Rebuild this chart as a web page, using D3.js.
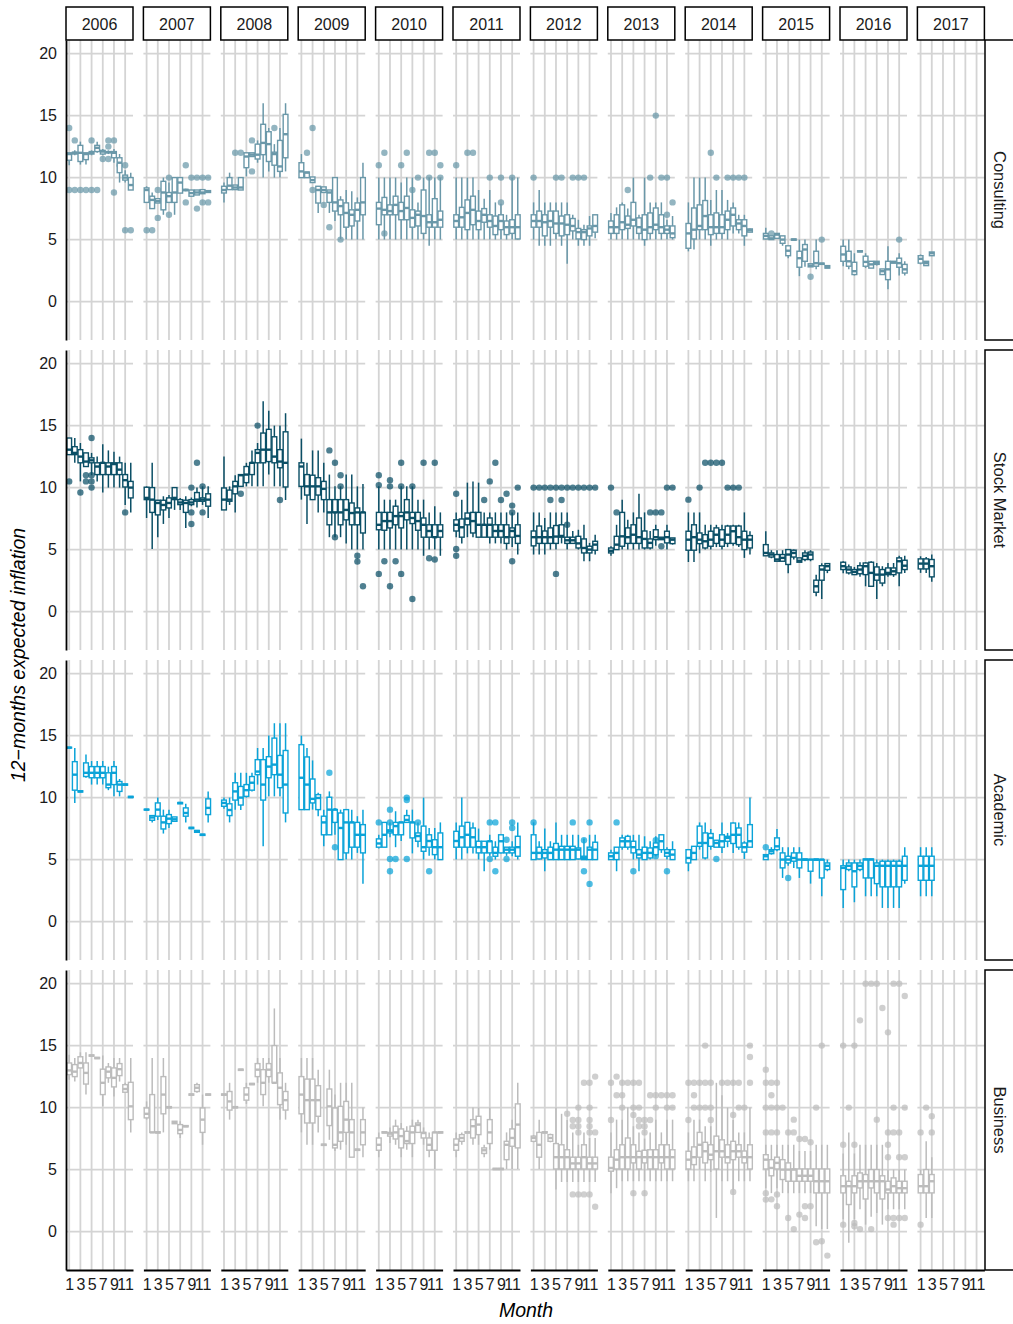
<!DOCTYPE html>
<meta charset="utf-8">
<style>
body { margin: 0; background: #fff; }
svg { font-family: "Liberation Sans", Arial, sans-serif; }
.axis text { font-size: 16px; fill: #1a1a1a; }
.axis path { stroke: #000; stroke-width: 1.8; }
</style>
<svg width="1013" height="1324"></svg>
<script src="https://d3js.org/d3.v7.min.js"></script>
<script>

var years = [2006, 2007, 2008, 2009, 2010, 2011, 2012, 2013, 2014, 2015, 2016, 2017];
var groups = ["Consulting", "Stock Market", "Academic", "Business"];
var groupColors = ["#6a98a9", "#0b4f66", "#0aa3d8", "#bcbcbc"];
var yTicks = [0, 5, 10, 15, 20];
var monthTicks = [1, 3, 5, 7, 9, 11];

// [year, month, lower whisker, q1, median, q3, upper whisker]
var consultingBoxes = [
[2006,1,11,11.4,11.9,12,12],[2006,2,11.8,11.9,12,12.05,12.2],[2006,3,11.05,11.3,12,12.6,12.9],[2006,4,11.05,11.45,11.9,12,12],
[2006,5,11.8,11.9,12,12.1,12.2],[2006,6,12,12.1,12.4,12.6,12.9],[2006,7,11.8,11.9,12.1,12.2,12.3],[2006,8,11.9,12,12.05,12.1,12.2],
[2006,9,11.2,11.6,12,12.1,12.3],[2006,10,9.6,10.4,11.2,11.6,11.9],[2006,11,9.6,9.8,10,10.2,10.6],[2006,12,9,9,9.4,10,10.4],
[2007,1,8,8,9,9.17,9.3],[2007,2,7.5,7.5,8.2,8.5,8.8],[2007,3,7.95,7.95,8.1,8.3,8.3],[2007,4,7,7.4,8.8,9.7,10],
[2007,5,8,8,8.5,8.8,9.6],[2007,6,7,8,8.8,10,10],[2007,7,8.75,8.75,9.6,10,10],[2007,8,8.9,8.95,9,9.05,9.1],
[2007,9,8.5,8.5,8.75,9,9],[2007,10,8.6,8.6,8.8,9,9],[2007,11,8.7,8.7,8.8,9.03,9.03],[2007,12,8.8,8.8,8.9,8.95,9],
[2008,1,8,8.76,9,9.3,9.6],[2008,2,9,9.03,9.35,10,10.4],[2008,3,9.03,9.03,9.2,9.4,9.4],[2008,4,9,9,9.2,10,10],
[2008,5,10.1,10.8,11.7,12,12],[2008,6,11.7,11.7,11.85,12,12],[2008,7,11.2,11.5,11.85,12.7,13],[2008,8,10,11.85,12.8,14.3,16],
[2008,9,10.5,11.3,12.7,13.7,14],[2008,10,10,11,11.9,12.05,12.7],[2008,11,10,10.5,10.9,13,14],[2008,12,10.5,11.6,13.5,15.1,16],
[2009,1,10,10,10.5,11.2,11.9],[2009,2,10,10,10.4,10.45,10.45],[2009,3,9.6,9.6,9.8,10.05,10.05],[2009,4,7.15,7.95,9,9.3,9.3],
[2009,5,8.8,8.8,9,9.25,9.25],[2009,6,7.15,8,8.8,9,9],[2009,7,6.5,7.3,8,10,10],[2009,8,5.05,7,7.7,8.2,8.5],
[2009,9,5,6,7.15,7.96,9],[2009,10,5,6.1,7,7.4,8.9],[2009,11,5,6.5,7.4,7.96,8.4],[2009,12,5,7,8,10,11.2],
[2010,1,5,6.2,7.5,8,10],[2010,2,5,7,7.4,8.4,10],[2010,3,5,7,7.3,7.8,10],[2010,4,5,7,7.8,8.5,10],
[2010,5,5,6.6,7.3,8,9.6],[2010,6,5,6.6,7.55,8.5,10],[2010,7,5,6,6.75,7.4,10],[2010,8,5,6.1,7,7.3,8],
[2010,9,5,5.5,6.9,9,10],[2010,10,4.5,6,6.4,7,10],[2010,11,5,6,6.4,8.3,10],[2010,12,5,6,6.6,7.3,10],
[2011,1,5,6,6.5,7,10],[2011,2,5,6,6.8,7.6,10],[2011,3,5,5.8,7.15,8.2,10],[2011,4,5,6.2,7.4,8.5,10],
[2011,5,5,5.8,6.5,7.3,9],[2011,6,5,6.4,7,7.5,8.3],[2011,7,5,6,6.5,7,9],[2011,8,5,5.4,6.1,6.9,8],
[2011,9,5,5.8,6.5,7,7.9],[2011,10,5,5.4,6,6.5,7],[2011,11,5,5.5,6,6.6,10],[2011,12,5,5.05,6,7,10],
[2012,1,5,6,6.5,7,8],[2012,2,4.5,6,6.5,7.3,9],[2012,3,4.5,5.3,6.4,7,8],[2012,4,4.5,6,6.5,7.3,8],
[2012,5,5,5.5,6.3,7.3,8],[2012,6,4.5,5.3,6.3,6.9,8],[2012,7,3.05,5.4,6.2,7,8],[2012,8,5,5.7,6.1,6.7,7],
[2012,9,4.5,5.05,5.6,5.9,6.6],[2012,10,4.5,5,5.6,5.8,6.2],[2012,11,4.5,5.3,5.9,6.1,6.9],[2012,12,5.1,5.6,6.1,7,7],
[2013,1,5,5.5,6,6.5,7.15],[2013,2,5,5.5,6,7,7.6],[2013,3,5,5.8,6.4,7.8,8],[2013,4,5,5.9,6.2,6.9,7.5],
[2013,5,5,6.1,6.6,8,10],[2013,6,5,5.5,6,6.75,7],[2013,7,4.5,5,5.8,7,10],[2013,8,5,5.5,6,7.15,8],
[2013,9,5,5.8,6.2,7.55,8],[2013,10,5,5.5,6,7,8],[2013,11,5,5.5,5.8,6.1,6.6],[2013,12,5,5.15,5.5,6.1,6.9],
[2014,1,4.05,4.3,5.5,6.3,8],[2014,2,4.2,5.05,5.8,7.55,10],[2014,3,5,5.8,6.1,7.8,10],[2014,4,5,5.8,6.9,8.15,10],
[2014,5,4.5,5.4,6,7,8.2],[2014,6,5,5.5,6,7.15,9],[2014,7,5,5.5,6,7,9],[2014,8,5,5.8,6.6,7.3,8.2],
[2014,9,5.5,6.1,7,7.55,8],[2014,10,5.5,5.8,6.3,6.6,7],[2014,11,4.5,5.3,6.1,6.6,7],[2014,12,5.6,5.6,5.75,5.86,5.9],
[2015,1,5,5.05,5.3,5.5,5.95],[2015,2,5,5,5.1,5.3,5.3],[2015,3,5.1,5.1,5.4,5.5,5.5],[2015,4,4.5,4.7,5,5.3,5.3],
[2015,5,3.5,3.7,4.1,4.5,4.5],[2015,6,4.95,4.95,5,5.05,5.05],[2015,7,2.05,2.77,3.5,4.06,5],[2015,8,2.8,3.25,4.2,4.6,5],
[2015,9,2.8,2.8,2.9,3.05,3.05],[2015,10,2.6,2.85,3.1,4.06,5],[2015,11,3,3,3.05,3.1,3.1],[2015,12,2.7,2.7,2.77,2.9,2.9],
[2016,1,2.85,3.25,3.8,4.46,5],[2016,2,2.6,2.85,3.25,4.06,5],[2016,3,2.1,2.18,2.45,3.17,3.9],[2016,4,4,4,4.06,4.1,4.1],
[2016,5,2.7,2.85,3.2,3.66,3.9],[2016,6,2.7,2.7,3,3.25,3.25],[2016,7,2.9,3,3.1,3.25,3.25],[2016,8,2.18,2.18,2.45,2.63,2.63],
[2016,9,1,1.77,2.6,3.25,4.46],[2016,10,3.1,3.1,3.17,3.25,3.25],[2016,11,2.1,2.77,3.1,3.5,3.9],[2016,12,2.1,2.3,2.6,3,3.25],
[2017,1,3,3.1,3.45,3.7,3.8],[2017,2,2.9,2.9,3.1,3.25,3.25],[2017,3,3.7,3.7,3.9,4,4]
];

// [year, month, outlier values...]
var consultingOutliers = [
[2006,1,14,9],[2006,2,13,9],[2006,3,9],[2006,4,9],[2006,5,13,9],[2006,6,9],[2006,7,11.5],[2006,8,13,12.5,11.5],
[2006,9,13,8.8],[2006,10,11],[2006,11,11,5.75],[2006,12,5.75],
[2007,1,5.75],[2007,2,5.75],[2007,3,9,6.75],[2007,5,10,7],[2007,8,11,8],[2007,9,10],[2007,10,10,7.5],[2007,11,10,8],[2007,12,10,8],
[2008,3,12],[2008,4,12],[2008,6,13,10.5],[2008,10,14],
[2009,2,12],[2009,3,14,9],[2009,5,7.8],[2009,6,6],[2009,8,5],
[2010,1,11],[2010,2,12,5.5],[2010,5,11],[2010,6,12],[2010,7,9],[2010,8,10],[2010,10,12,10],[2010,11,12],[2010,12,11,10],
[2011,1,11],[2011,3,12],[2011,4,12],[2011,7,10],[2011,9,10,8],[2011,11,10],
[2012,1,10],[2012,5,10],[2012,6,10],[2012,8,10],[2012,9,10],[2012,10,10],
[2013,4,9],[2013,8,10],[2013,9,15],[2013,10,10],[2013,11,10,7],[2013,12,8],
[2014,5,12],[2014,6,10],[2014,8,10],[2014,9,10],[2014,10,10],[2014,11,10],
[2015,2,5.5],[2015,9,2],[2015,11,5],
[2016,11,5]
];

var stockBoxes = [
[2006,1,12.66,12.66,13.06,14,14],[2006,2,12,12.66,12.8,13.3,14],[2006,3,10.5,12,12.5,13.06,13.6],[2006,4,11.7,11.7,12.1,12.8,12.8],
[2006,5,11,12,12.2,12.4,12.8],[2006,6,10.5,11.05,11.7,12,12.5],[2006,7,9.6,11.05,12,12,13.5],[2006,8,10,11.05,11.7,12,13],
[2006,9,10,11.05,11.9,12,12.9],[2006,10,10,11.05,11.45,12,12.5],[2006,11,8.6,10.05,10.6,11.05,12],[2006,12,8,9.17,10,10.5,12],
[2007,1,7.55,9.03,9.17,10.03,10.1],[2007,2,5.05,8,9.03,10,12],[2007,3,6,7.8,8.76,8.98,9],[2007,4,7.07,8.2,8.6,8.98,9.3],
[2007,5,7.55,8.36,8.76,9.17,9.4],[2007,6,8.2,9.03,9.17,10,10],[2007,7,8.2,8.63,8.8,9.03,9.17],[2007,8,6.75,8,8.76,8.98,9.3],
[2007,9,8.5,8.63,8.8,9.03,9.2],[2007,10,8.4,8.9,9.03,9.6,10],[2007,11,8.6,8.9,9.03,9.17,10.1],[2007,12,7.55,8.5,9.03,9.5,10.1],
[2008,1,8.2,8.2,9.03,9.97,12.5],[2008,2,8.6,8.9,9.03,9.8,10.1],[2008,3,8,9.5,10.1,10.5,11],[2008,4,10.1,10.1,11,11.05,11.05],
[2008,5,10.1,10.4,11.05,11.7,12],[2008,6,10.1,11.05,12,12,13],[2008,7,10.1,12,12.8,13.06,13.6],[2008,8,10.1,12,13.06,14.4,16.96],
[2008,9,11.05,12.1,13.06,14.7,16.2],[2008,10,10.1,12,12.5,14.1,15],[2008,11,10.1,11.6,12.1,13.06,15],[2008,12,9,10.05,12,14.5,16],
[2009,1,9.03,10.1,11.7,12,13.95],[2009,2,7.07,9.4,10.1,11.05,12],[2009,3,9.03,9.03,10.1,11,13],[2009,4,8,9.4,10.1,10.8,13],
[2009,5,8,9.03,9.9,10.5,12],[2009,6,6,7,8,9.03,11.05],[2009,7,6,8,8,9.03,10.1],[2009,8,6,7,8,9.03,10.1],
[2009,9,5.5,7.4,8.2,9.03,11.05],[2009,10,5,7,7.95,8.76,11.05],[2009,11,5,7,8,8.36,10.1],[2009,12,5,6.34,8,8,10.3],
[2010,1,5,6.6,7,8,10.1],[2010,2,5,6.56,7.3,8,9.03],[2010,3,5,6.75,7.3,8,9.03],[2010,4,5,7,7.7,8.5,9.03],
[2010,5,5,6.75,7.7,8,10.1],[2010,6,5,7.4,8,9.03,10.1],[2010,7,5,7.1,7.55,8,10.1],[2010,8,5,6.56,7.3,8,9.03],
[2010,9,4.5,6,7,7.55,9.03],[2010,10,5,6,6.5,7,8],[2010,11,5,6,6,7,8.5],[2010,12,4.5,6,6.5,7,8],
[2011,1,6,6.5,7,7.4,8],[2011,2,5.5,6,6.8,7.47,9.03],[2011,3,6,7,7.5,7.95,10.4],[2011,4,6,6.34,7.3,8,10.5],
[2011,5,6,6,7,8,10.4],[2011,6,6,6,7,7,8],[2011,7,5.5,6,7,7.55,8],[2011,8,5.5,6,6.5,7,8],
[2011,9,5.5,6,6.5,7,8],[2011,10,5,5.5,6,7,8],[2011,11,5.2,6,6.5,6.75,8],[2011,12,4.6,5.5,6.1,7,8],
[2012,1,4.6,5.3,6,6.5,8],[2012,2,4.6,5.5,6,6.9,8],[2012,3,4.6,5.5,6,6.5,7.55],[2012,4,5,5.5,6,6.75,8],
[2012,5,5,5.5,6.05,6.94,8],[2012,6,5.5,6,6.1,7,8],[2012,7,5,5.5,5.75,6,8],[2012,8,5.5,5.5,5.75,6,6.5],
[2012,9,5,5.13,5.5,6.07,6.6],[2012,10,4.06,4.73,5.13,5.86,7],[2012,11,4.06,4.73,5,5.27,5.54],[2012,12,4.6,4.95,5.4,5.67,6.2],
[2013,1,4.5,4.73,4.9,5.13,5.27],[2013,2,5,5,5.4,6.07,7],[2013,3,5,5.27,6.07,8,9.03],[2013,4,5,5.5,6,6.75,7.4],
[2013,5,5,5.5,6.2,7,8],[2013,6,5,5.5,6,7.55,9.5],[2013,7,5,5.13,5.86,6.5,8],[2013,8,5,5.13,5.54,5.86,6.5],
[2013,9,5.3,5.8,6,6.6,7],[2013,10,5.8,5.8,5.9,6,6],[2013,11,5,5.54,6,6.48,7],[2013,12,5.4,5.48,5.8,5.94,5.94],
[2014,1,4,4.95,5.8,6.48,8],[2014,2,4,4.95,6,7,8],[2014,3,4.7,5.48,5.8,6.34,8],[2014,4,5,5.13,5.67,6.2,7],
[2014,5,5,5.27,5.8,6.48,7],[2014,6,5.2,5.5,6.2,6.75,7],[2014,7,5,5.27,5.8,6.6,7],[2014,8,5.2,5.5,6.2,6.9,7],
[2014,9,5.3,5.5,6.48,6.9,7],[2014,10,5.2,5.4,6,6.9,7],[2014,11,4.33,5,5.8,6.48,8],[2014,12,4.6,5.13,5.8,6.13,6.48],
[2015,1,4.5,4.5,4.73,5.4,6.48],[2015,2,4.3,4.4,4.6,4.73,4.95],[2015,3,4.06,4.06,4.2,4.6,4.95],[2015,4,4.06,4.06,4.33,4.6,4.95],
[2015,5,3.1,3.8,4.6,5,5],[2015,6,4.2,4.4,4.73,4.95,5],[2015,7,3.98,3.98,4.1,4.33,4.33],[2015,8,4.06,4.2,4.5,4.73,4.95],
[2015,9,4.06,4.2,4.6,4.8,4.95],[2015,10,1.24,1.56,2.04,2.53,2.98],[2015,11,1.02,2.53,3.39,3.7,3.9],[2015,12,3.1,3.33,3.66,3.87,3.9],
[2016,1,3.1,3.39,3.66,3.98,4.06],[2016,2,3,3.12,3.39,3.6,3.8],[2016,3,2.98,2.98,3.2,3.39,3.6],[2016,4,2.8,3.05,3.39,3.7,3.98],
[2016,5,2.04,2.98,3.66,3.92,3.98],[2016,6,2.04,2.04,3.12,3.98,4.06],[2016,7,1.02,2.53,2.98,3.6,3.92],[2016,8,2.04,2.3,2.98,3.39,3.66],
[2016,9,2.8,2.98,3.12,3.52,3.92],[2016,10,2.8,2.98,3.25,3.52,3.92],[2016,11,2.04,3.12,4.06,4.33,4.5],[2016,12,3.12,3.39,3.7,4.14,4.5],
[2017,1,3.12,3.44,3.87,4.25,4.46],[2017,2,3.12,3.44,3.87,4.25,4.4],[2017,3,2.4,2.8,3.66,4.2,4.6]
];

var stockOutliers = [
[2006,1,10.5],[2006,3,9.6],[2006,4,12.5,11,10.5],[2006,5,14,11,10.5,10],[2006,11,8],
[2007,9,10,8,7.07],[2007,10,12],[2007,11,10.1,8],
[2008,4,9.5],[2008,7,15],[2008,11,9],
[2009,6,13],[2009,7,12,6],[2009,8,11,10.1],[2009,11,4.5,4.03],[2009,12,2.04],
[2010,1,11,10.2,3.04],[2010,2,4.06],[2010,3,10.6,10.1,2.04],[2010,4,4.06],[2010,5,12,10.1,3.04],[2010,7,10.1,1.02],[2010,9,12],[2010,10,4.3],[2010,11,12,4.2],
[2011,1,9.5,5.05,4.5],[2011,6,9],[2011,7,10.5],[2011,8,12],[2011,9,9],[2011,10,9.5],[2011,11,8.55,8,4.06],[2011,12,10],
[2012,1,10],[2012,2,10],[2012,3,10],[2012,4,10,9],[2012,5,10,3.04],[2012,6,10,9],[2012,7,10,7],[2012,8,10],[2012,9,10],[2012,10,10],[2012,11,10],[2012,12,10],
[2013,1,10],[2013,2,8],[2013,8,8],[2013,9,8],[2013,10,8,5.27],[2013,11,10],[2013,12,10],
[2014,1,9.03],[2014,3,10],[2014,4,12],[2014,5,12],[2014,6,12],[2014,7,12],[2014,8,10],[2014,9,10],[2014,10,10]
];

var academicBoxes = [
[2006,1,14,14,14.03,14.06,14.06],[2006,2,9.57,10.6,11.85,12.9,14],[2006,3,10.45,10.45,10.5,10.55,10.55],[2006,4,11.6,11.7,12,12.8,13.47],
[2006,5,11.05,11.6,12,12.5,12.95],[2006,6,11.05,11.6,12,12.5,12.95],[2006,7,11.05,11.6,12,12.5,12.95],[2006,8,10.6,10.8,11.05,12,12.5],
[2006,9,10.1,11.05,12,12.5,12.95],[2006,10,10.1,10.5,11.05,11.3,11.5],[2006,11,11,11,11.05,11.1,11.1],[2006,12,10,10,10.05,10.1,10.1],
[2007,1,9,9,9.03,9.06,9.06],[2007,2,8,8.17,8.4,8.55,8.6],[2007,3,8.2,8.5,9.03,9.57,10],[2007,4,7.1,7.47,8,8.5,9.03],
[2007,5,7.55,7.9,8.3,8.63,9.03],[2007,6,8.09,8.09,8.25,8.44,8.44],[2007,7,9.5,9.5,9.57,9.6,9.6],[2007,8,8,8.5,8.76,9.17,9.5],
[2007,9,7.5,7.5,7.55,7.6,7.6],[2007,10,7.2,7.2,7.3,7.35,7.35],[2007,11,6.95,6.95,7,7.05,7.05],[2007,12,8,8.63,9.17,9.9,10.5],
[2008,1,9.1,9.3,9.57,9.8,10],[2008,2,8,8.55,9,9.5,10],[2008,3,9.03,9.8,10.5,11.2,12],[2008,4,9,9.4,10,10.9,12],
[2008,5,10,10.1,10.6,11.05,12],[2008,6,10.5,10.6,11.2,11.7,12],[2008,7,11.05,11.85,12.1,13.06,14],[2008,8,6.07,9.8,11.05,13.06,14],
[2008,9,10.1,11.6,12.5,13.3,15],[2008,10,10.1,11.85,12.66,14.8,16],[2008,11,10.1,10.8,11.85,13.4,16],[2008,12,8,8.76,11.05,13.8,16],
[2009,1,9.03,9.03,11.6,14.27,15],[2009,2,9.03,9.03,11.05,13.28,14],[2009,3,9.03,9.57,9.9,11.5,13],[2009,4,8.5,9.03,9.97,10.24,10.4],
[2009,5,6.07,7,8,8.5,9.03],[2009,6,7,7,9.03,10.03,10.5],[2009,7,7,8,9.03,9.03,9.17],[2009,8,5,5,7.55,8.76,9.03],
[2009,9,5,5.54,8,9.03,9.03],[2009,10,5,6,8,8,9.03],[2009,11,5.54,6,7,8,8.5],[2009,12,3.06,5.54,7,7.82,9.03],
[2010,1,5.9,6,6.3,6.67,7],[2010,2,6,6,7,8,8],[2010,3,6.8,7.15,7.3,7.4,8],[2010,4,6,7,7.7,8,8.9],
[2010,5,6.5,7,8,8,8],[2010,6,8,8,8.2,8.55,9.03],[2010,7,5.5,6.75,8,8,9.03],[2010,8,6,6.48,6.9,7.15,8],
[2010,9,5,5.67,6,7.7,10],[2010,10,5.3,6,6.5,7,7.55],[2010,11,5,5.4,6,6.6,7.55],[2010,12,5,5,6,7.15,8],
[2011,1,5,6,6.5,7.28,8],[2011,2,5,6,6.8,7.7,10],[2011,3,5.5,6,7,8,8],[2011,4,5.5,6,6.8,7.55,8],
[2011,5,5,5.54,6,6.48,7.5],[2011,6,4.06,5.54,6,6.48,6.48],[2011,7,5.3,5.54,6.48,6.48,7],[2011,8,5,5.27,5.54,6,6.48],
[2011,9,5.5,5.54,6.48,7,7],[2011,10,5.3,5.54,5.8,6,6],[2011,11,5.27,5.54,5.8,6,6.48],[2011,12,5,5.27,6,6.88,8],
[2012,1,5,5,5.54,7,8],[2012,2,5,5.05,5.54,6,6.48],[2012,3,4.06,5.13,5.54,5.8,7.5],[2012,4,5,5,5.54,6,6.48],
[2012,5,5,5,5.8,6.3,8],[2012,6,5,5,5.8,6.07,7],[2012,7,5,5,5.8,6.07,7],[2012,8,5,5,5.8,6.07,7],
[2012,9,5,5.05,5.8,5.94,7],[2012,10,5,5,5.13,5.27,6.7],[2012,11,5,5,5.8,6,7],[2012,12,5,5,5.8,6.4,7],
[2013,1,5,5,5.27,5.54,5.8],[2013,2,4.06,5,5.54,6,6],[2013,3,5.8,6,6.48,6.75,7],[2013,4,5.8,6,6.48,6.88,7],
[2013,5,5,5.54,6,6.48,7],[2013,6,4.06,5.13,5.4,5.8,7],[2013,7,5,5,5.54,6,6.88],[2013,8,5,5.13,5.54,5.94,6.48],
[2013,9,5.27,5.4,6,6.34,6.88],[2013,10,5.54,5.8,6.48,7,7],[2013,11,5,5.27,5.54,5.8,6],[2013,12,5,5,5.4,5.8,6.48],
[2014,1,4.06,4.73,5.13,5.8,5.8],[2014,2,5,5,5.54,6.07,6.07],[2014,3,5.8,6.07,6.34,7.7,8],[2014,4,5,5.13,6.34,7.15,8],
[2014,5,5.8,6.07,6.75,7.1,7.47],[2014,6,6,6,6.34,6.56,6.56],[2014,7,5.54,6,6.48,7,8],[2014,8,6,6.48,6.75,6.88,7.15],
[2014,9,5.54,6.3,7,7.95,8],[2014,10,5.8,6,7,7.55,8],[2014,11,5.05,5.6,6,6.34,6.48],[2014,12,6,6,6.48,7.82,10],
[2015,1,5,5,5.27,5.4,5.4],[2015,2,5.4,5.48,5.67,5.8,6],[2015,3,5.67,5.8,6.07,6.75,7.47],[2015,4,3.52,4.33,5,5.54,6],
[2015,5,4.5,4.73,5,5.27,6],[2015,6,4.33,4.87,5.13,5.54,6],[2015,7,3.52,4.33,5,5.54,6],[2015,8,4.95,4.95,5,5.05,5.05],
[2015,9,3.06,4.06,5,5,5],[2015,10,4.95,4.95,5,5.05,5.05],[2015,11,2.04,3.52,5,5,5],[2015,12,4.06,4.2,4.5,4.73,5],
[2016,1,1.1,2.58,4.33,4.5,5],[2016,2,4.06,4.2,4.5,4.73,5],[2016,3,1.56,2.8,4.06,4.73,5],[2016,4,4.06,4.2,4.5,4.73,5],
[2016,5,2.04,3.52,5,5.05,5.05],[2016,6,2.04,3.52,5,5.05,5.05],[2016,7,2.04,3.06,4.5,4.73,5],[2016,8,1.1,2.8,4.5,4.87,5],
[2016,9,1.1,2.8,4.5,4.87,5],[2016,10,1.1,2.8,4.5,4.87,5],[2016,11,1.1,2.8,4.5,4.87,5],[2016,12,3.06,3.33,4.5,5.27,6],
[2017,1,2.04,3.33,4.5,5.27,6],[2017,2,2.04,3.33,4.5,5.27,6],[2017,3,2.04,3.33,4.5,5.27,6]
];

var academicOutliers = [
[2009,6,12],[2009,7,6],
[2010,1,8],[2010,3,9.03,8,5.05,4.06],[2010,4,5.05],[2010,6,10,9.8,5.05],[2010,8,8],[2010,10,4.06],
[2011,7,8,5.05],[2011,8,8,4.06],[2011,10,6.6,5.05],[2011,11,8,7.55],
[2012,1,8],[2012,8,8],[2012,10,6.56,4.06],[2012,11,8,3.04],
[2013,2,8],[2013,5,4.06],[2013,9,6.56,5.27],[2013,11,4.06],
[2014,6,5.05],
[2015,1,6],[2015,5,3.52]
];

var businessBoxes = [
[2006,1,12.25,12.66,13,13.6,14.27],[2006,2,12.1,12.5,12.9,13.47,14],[2006,3,13.2,13.2,13.6,14.1,14.46],[2006,4,11.05,11.9,12.8,13.6,14.46],
[2006,5,14.15,14.15,14.2,14.25,14.25],[2006,6,13.95,13.95,14,14.05,14.05],[2006,7,10.1,11.05,12,13.1,14.2],[2006,8,12,12.4,12.9,13.28,13.6],
[2006,9,10.9,11.67,12.4,13.2,14],[2006,10,12.1,12.58,13.1,13.55,14],[2006,11,11.2,11.24,11.5,11.85,12],[2006,12,8,9.03,10.1,12.04,14],
[2007,1,9.03,9.17,9.5,9.97,10.5],[2007,2,8,8,8,11.05,14],[2007,3,7.95,7.95,8,8.05,8.05],[2007,4,8,9.5,11.05,12.5,14],
[2007,5,9.98,9.98,10.03,10.08,10.08],[2007,6,8.7,8.7,8.8,8.9,8.9],[2007,7,7.55,7.9,8.2,8.63,8.9],[2007,8,8.45,8.45,8.5,8.55,8.55],
[2007,9,11,11,11.05,11.1,11.1],[2007,10,11.2,11.3,11.6,11.85,12],[2007,11,7,8,9.03,9.97,11.05],[2007,12,11,11,11.05,11.1,11.1],
[2008,1,11,11,11.05,11.1,11.1],[2008,2,9.03,9.8,10.5,11.3,12],[2008,3,9.98,9.98,10.03,10.08,10.08],[2008,4,13,13,13.06,13.1,13.1],
[2008,5,10.3,10.6,11.05,11.6,12],[2008,6,11.85,11.85,11.9,11.95,11.95],[2008,7,12,12.5,13.06,13.55,14],[2008,8,10.1,11.05,12,13.06,14],
[2008,9,12,12.5,13.06,13.55,14],[2008,10,12,12,12,15,18],[2008,11,9.03,10.24,11.6,12.8,14],[2008,12,9.03,9.8,10.6,11.3,12],
[2009,1,8,9.5,11.05,12.5,14],[2009,2,7,8.76,10.6,12.3,14],[2009,3,7,8.76,10.6,12.3,14],[2009,4,8,9.3,10.6,11.77,13.06],
[2009,5,6.95,6.95,7,7.05,7.05],[2009,6,7.4,8.55,10.1,11.5,13.06],[2009,7,6.5,6.75,7,9.97,11.05],[2009,8,6.6,7.28,8,10.1,12],
[2009,9,7,8,9.03,10.5,12],[2009,10,6,6,8,9.03,12],[2009,11,6.55,6.55,6.6,6.65,6.65],[2009,12,6,7,8,9.03,10],
[2010,1,6,6.56,7,7.55,8],[2010,2,7.95,7.95,8,8.05,8.05],[2010,3,7.15,7.7,7.9,8,8.4],[2010,4,7,7.47,8,8.5,9.03],
[2010,5,6,6.75,7.7,8.28,8.76],[2010,6,6.6,7.1,7.3,8.09,8.5],[2010,7,6,7.1,8,8.5,9.03],[2010,8,8,8,8.6,8.76,9.03],
[2010,9,7,7.55,7.95,8,8.4],[2010,10,6,6.56,7,7.55,8],[2010,11,5.05,6.56,8,8,8],[2010,12,7.95,7.95,8,8.05,8.05],
[2011,1,6,6.56,7,7.47,8],[2011,2,7,7.28,7.55,7.82,8],[2011,3,7.95,7.95,8,8.05,8.05],[2011,4,7,7.55,8.5,9.03,10],
[2011,5,7,7.82,8.63,9.3,10],[2011,6,6,6.3,6.56,6.75,7],[2011,7,6.6,7.1,8,9.03,10],[2011,8,5,5,5.05,5.1,5.1],
[2011,9,5,5,5.05,5.1,5.1],[2011,10,5.05,5.8,7,7.28,8],[2011,11,5.05,6.88,7.55,8.28,9.03],[2011,12,5.05,6.75,8.63,10.3,12],
[2012,1,7.2,7.28,7.55,7.7,7.8],[2012,2,5.05,6,7,8,9.03],[2012,3,7.95,7.95,8,8.05,8.05],[2012,4,7.2,7.28,7.55,7.82,7.9],
[2012,5,3.39,5.05,6,7.1,10],[2012,6,4,5.05,6,7,9.5],[2012,7,4,5.05,6,6.6,9],[2012,8,4,5.05,5.5,6,8],
[2012,9,4,5.05,5.5,6,7],[2012,10,4,5.05,6,7,8],[2012,11,4,5.05,5.5,6,7.55],[2012,12,4,5.05,5.5,6,7.55],
[2013,1,3.1,4.87,5.13,6,8],[2013,2,3.5,5.05,5.8,6.6,9.03],[2013,3,4.06,5.05,6,7,9.03],[2013,4,4.06,5.05,6,7.55,10],
[2013,5,4.06,5.54,6,7,8.5],[2013,6,4.06,5.05,6,6.48,8],[2013,7,4.06,5.54,6,6.56,7.5],[2013,8,4.06,5.05,6,6.6,8],
[2013,9,4.06,5.05,6,6.6,9.03],[2013,10,4.06,5.54,6,7,8],[2013,11,4.06,5.05,6,7,9.03],[2013,12,4.06,5.05,6,6.6,9.03],
[2014,1,4.06,5.05,5.8,6.48,8],[2014,2,4.06,5.4,6,6.83,9.03],[2014,3,5,6,7,8,9.03],[2014,4,4.06,5.54,6.48,7.2,8.5],
[2014,5,4.8,5.8,6.2,7,8.5],[2014,6,1.1,5.05,6.48,7.7,12],[2014,7,4.06,6,6.48,7.4,11],[2014,8,4.06,5.54,6,7,10],
[2014,9,3.4,5.8,6.48,7.28,9],[2014,10,4.06,6,6.48,7,8],[2014,11,4.06,5.54,6,6.5,8],[2014,12,4.06,5.05,6,7,10],
[2015,1,3.5,5.05,5.8,6.2,7],[2015,2,3.1,4.5,5.13,5.8,7],[2015,3,3.5,5.05,5.54,6,7],[2015,4,3.1,4.2,5,5.8,7],
[2015,5,3.1,4.06,5,5.54,7],[2015,6,3.1,4.06,5,5.05,7],[2015,7,3.1,4.06,4.5,5.05,6.5],[2015,8,3.1,4.06,4.5,5.05,6.5],
[2015,9,3.1,4.06,4.5,5.05,6.5],[2015,10,0.43,3.12,4.06,5.05,7],[2015,11,0.2,3.12,4.06,5.05,7],[2015,12,0.2,3.12,4.06,5.05,7],
[2016,1,1,3.12,3.66,4.5,6.3],[2016,2,-0.91,2.18,3.66,4.06,8],[2016,3,1,3.12,3.66,4.5,6.3],[2016,4,1.8,3.52,4.06,4.73,7],
[2016,5,0.56,2.63,4.06,4.6,7],[2016,6,1.2,3.52,4.06,5,7],[2016,7,1.5,3.12,4.06,5,7],[2016,8,0.56,2.63,4.06,4.5,7],
[2016,9,1.8,3.12,3.39,4.06,5],[2016,10,1.8,3.12,3.66,4.33,5],[2016,11,1.8,3.12,3.5,4.06,5],[2016,12,1.8,3.12,3.5,4.06,5],
[2017,1,3.12,3.12,3.66,4.6,5],[2017,2,1.1,3.12,3.66,5,7.28],[2017,3,1.1,3.12,4.06,4.6,6]
];

var businessOutliers = [
[2012,7,9.5],[2012,8,9,8.5,3],[2012,9,10,9,8.5,8,3],[2012,10,12,3],[2012,11,12,10,9,8.5,8,3],[2012,12,12.5,8,2],
[2013,1,12,9],[2013,2,12.5,11],[2013,3,12,11,10],[2013,4,12],[2013,5,12,10,9.4,3.1],[2013,6,12,10,9,8.5],[2013,7,9,8.5,8,3.1],
[2013,8,11,9],[2013,9,11,10],[2013,10,11],[2013,11,11,10],[2013,12,11,10],
[2014,1,12,9],[2014,2,12,11,10],[2014,3,12,10],[2014,4,15,12,10],[2014,5,12,10,9],[2014,7,12],[2014,8,12],[2014,9,12,9.4,3.2],
[2014,10,12,10],[2014,11,10],[2014,12,15,14.08,12],
[2015,1,13.06,12,10,8,3.1,2.58],[2015,2,12,11,10,8,2.6],[2015,3,12,10,8,3,2.04],[2015,4,10],[2015,5,8,1.1],[2015,6,9.03,8,0.2],
[2015,7,7.47,1.37],[2015,8,7.47,2.04,1.1],[2015,9,7.2,2.04],[2015,10,10,-0.86],[2015,11,15,-0.78],[2015,12,-1.94],
[2016,1,15,7,0.56],[2016,2,10],[2016,3,15,7,0.7,0.43],[2016,4,17.04,0.2],[2016,5,20],[2016,6,20,0.2],[2016,7,20,9.03],[2016,8,18.04],
[2016,9,16.07,8,7,6,1.1],[2016,10,20,10,8,1.1,0.56],[2016,11,20,8,6,1.1],[2016,12,19,10,6,1.1],
[2017,1,8,0.56],[2017,2,10],[2017,3,9.3,8]
];

var boxSets = [consultingBoxes, stockBoxes, academicBoxes, businessBoxes];
var outlierSets = [consultingOutliers, stockOutliers, academicOutliers, businessOutliers];

var svg = d3.select("svg");
svg.append("rect").attr("width", 1013).attr("height", 1324).attr("fill", "#fff");

var left = 66, top0 = 40, panelW = 67, panelH = 300, colStep = 77.4, rowStep = 310;
var boxW = 0.85;

var x = d3.scaleLinear().domain([0.43, 12.4]).range([0, panelW]);
var y = d3.scaleLinear().domain([-3.1, 21.1]).range([panelH, 0]);

groups.forEach(function(grp, r) {
	var top = top0 + r * rowStep;
	var color = groupColors[r];

	years.forEach(function(yr, c) {
		var p = svg.append("g")
			.attr("transform", "translate(" + (left + c * colStep) + "," + top + ")");

		// grid
		p.selectAll(".hgrid").data(yTicks).enter().append("line")
			.attr("x1", 0).attr("x2", panelW)
			.attr("y1", function(d) { return y(d); })
			.attr("y2", function(d) { return y(d); })
			.attr("stroke", "#d4d4d4").attr("stroke-width", 1.8);
		p.selectAll(".vgrid").data(monthTicks).enter().append("line")
			.attr("y1", 0).attr("y2", panelH)
			.attr("x1", function(d) { return x(d); })
			.attr("x2", function(d) { return x(d); })
			.attr("stroke", "#d4d4d4").attr("stroke-width", 1.8);

		var boxes = boxSets[r].filter(function(b) { return b[0] === yr; });
		var outs = outlierSets[r].filter(function(o) { return o[0] === yr; });

		boxes.forEach(function(b) {
			var m = b[1], cx = x(m);
			var pts = [];
			outs.filter(function(o) { return o[1] === m; }).forEach(function(o) {
				o.slice(2).forEach(function(v) { pts.push(v); });
			});
			var g = p.append("g");
			g.selectAll("circle").data(pts).enter().append("circle")
				.attr("cx", cx).attr("cy", function(d) { return y(d); })
				.attr("r", 3.2).attr("fill", color).attr("fill-opacity", 0.72);
			g.append("line").attr("x1", cx).attr("x2", cx)
				.attr("y1", y(b[2])).attr("y2", y(b[3]))
				.attr("stroke", color).attr("stroke-width", 1.5);
			g.append("line").attr("x1", cx).attr("x2", cx)
				.attr("y1", y(b[5])).attr("y2", y(b[6]))
				.attr("stroke", color).attr("stroke-width", 1.5);
			var x0 = x(m - boxW / 2), x1 = x(m + boxW / 2);
			g.append("rect").attr("x", x0).attr("width", x1 - x0)
				.attr("y", y(b[5])).attr("height", Math.max(0.5, y(b[3]) - y(b[5])))
				.attr("fill", "#fff").attr("stroke", color).attr("stroke-width", 1.4);
			g.append("line").attr("x1", x0).attr("x2", x1)
				.attr("y1", y(b[4])).attr("y2", y(b[4]))
				.attr("stroke", color).attr("stroke-width", 2.4);
		});

		// left axis only on first column
		if (c === 0) {
			var ya = p.append("g").attr("class", "axis")
				.call(d3.axisLeft(y).tickValues(yTicks).tickSize(0).tickSizeOuter(0).tickPadding(9));
			ya.selectAll("text").style("font-size", "16px");
		}
		// bottom axis only on last row
		if (r === groups.length - 1) {
			var xa = p.append("g").attr("class", "axis")
				.attr("transform", "translate(0," + panelH + ")")
				.call(d3.axisBottom(x).tickValues(monthTicks).tickSize(0).tickSizeOuter(0).tickPadding(9));
			xa.selectAll("text").style("font-size", "16px");
		}

		// year strip on top row
		if (r === 0) {
			var s = svg.append("g").attr("transform", "translate(" + (left + c * colStep) + ",7)");
			s.append("rect").attr("width", panelW).attr("height", 33)
				.attr("fill", "#fff").attr("stroke", "#000").attr("stroke-width", 1.5);
			s.append("text").attr("x", panelW / 2).attr("y", 22.5)
				.attr("text-anchor", "middle").attr("font-size", 16).attr("fill", "#1a1a1a")
				.text(yr);
		}
	});

	// group strip on the right
	var rs = svg.append("g").attr("transform", "translate(985," + top + ")");
	rs.append("rect").attr("width", 60).attr("height", panelH)
		.attr("fill", "#fff").attr("stroke", "#000").attr("stroke-width", 1.5);
	rs.append("text").attr("transform", "translate(15," + (panelH / 2) + ") rotate(90)")
		.attr("text-anchor", "middle").attr("dy", "0.35em")
		.attr("font-size", 16.5).attr("fill", "#1a1a1a")
		.text(grp);
});

// axis titles
svg.append("text")
	.attr("transform", "translate(25,655) rotate(-90)")
	.attr("text-anchor", "middle")
	.attr("font-size", 19.5).attr("font-style", "italic").attr("fill", "#000")
	.text("12\u2212months expected inflation");

svg.append("text")
	.attr("x", 526).attr("y", 1317)
	.attr("text-anchor", "middle")
	.attr("font-size", 19.5).attr("font-style", "italic").attr("fill", "#000")
	.text("Month");

</script>
